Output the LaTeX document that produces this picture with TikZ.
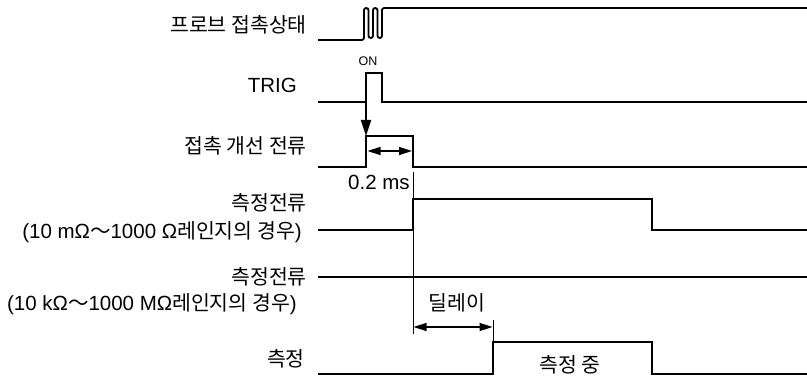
\documentclass[tikz,border=0pt]{standalone}
\usepackage{fontspec}
\setmainfont{Liberation Sans}
\newfontfamily\kr{Noto Sans CJK KR}
\usetikzlibrary{arrows.meta}
\tikzset{
  sig/.style={line width=1.8pt, line join=miter},
  guide/.style={line width=0.6pt},
  lbl/.style={anchor=base east, inner sep=0pt, font=\fontsize{20.5}{23}\selectfont},
  txt/.style={anchor=base, inner sep=0pt, font=\fontsize{20.5}{23}\selectfont},
  dim/.style={line width=1.5pt, {Triangle[length=13pt,width=8pt]}-{Triangle[length=13pt,width=8pt]}},
  trigarrow/.style={line width=1.8pt, -{Triangle[length=16pt,width=10pt]}}
}
\begin{document}
\begin{tikzpicture}[x=1pt,y=-1pt]
\useasboundingbox (0,0) rectangle (807,377);
% labels
\node[lbl] (l1) at (307,33) {\kr 프로브 접촉상태};
\node[lbl] (l2) at (297,93) {TRIG};
\node[lbl] (l3) at (307,154) {\kr 접촉 개선 전류};
\node[lbl] (l4) at (307,211) {\kr 측정전류};
\node[lbl] (l4b) at (302,239) {(10 mΩ{\kr ～}1000 Ω{\kr 레인지의 경우})};
\node[lbl] (l5) at (307,284) {\kr 측정전류};
\node[lbl] (l5b) at (297,310) {(10 kΩ{\kr ～}1000 MΩ{\kr 레인지의 경우})};
\node[lbl] (l6) at (305,366) {\kr 측정};
% probe contact state
\draw[sig, rounded corners=2.2pt] (318,40) -- (364,40) -- (364,8) -- (368.5,8) -- (368.5,38) -- (373,38) -- (373,8) -- (377.5,8) -- (377.5,38) -- (382,38) -- (382,8) -- (807,8);
% TRIG
\draw[sig] (318,102) -- (366,102) -- (366,73) -- (382,73) -- (382,102) -- (807,102);
\node[anchor=base, inner sep=0pt, font=\fontsize{12.5}{14}\selectfont] (on) at (368,66) {ON};
\coordinate (trigfoot) at (366,102);
\coordinate (contop) at (366,136);
\draw[trigarrow] (trigfoot) -- (contop);
% contact improvement current
\draw[sig] (318,167) -- (366,167) -- (366,136) -- (413,136) -- (413,167) -- (807,167);
\coordinate (a1) at (367.5,151);
\coordinate (a2) at (412,151);
\draw[dim] (a1) -- (a2);
\node[txt, anchor=base west] (t02) at (348,190) {0.2 ms};
% measurement current 1
\draw[sig] (318,230) -- (413,230) -- (413,199) -- (652,199) -- (652,230) -- (807,230);
% measurement current 2
\draw[sig] (318,277) -- (807,277);
% guides
\coordinate (g1a) at (413,172);
\coordinate (g1b) at (413,334);
\draw[guide] (g1a) -- (g1b);
\coordinate (g2a) at (493,320);
\coordinate (g2b) at (493,342);
\draw[guide] (g2a) -- (g2b);
\coordinate (d1) at (413.5,327);
\coordinate (d2) at (492.5,327);
\draw[dim] (d1) -- (d2);
\node[txt] (tdelay) at (457,311) {\kr 딜레이};
% measurement
\draw[sig] (318,374) -- (493,374) -- (493,342) -- (652,342) -- (652,374) -- (807,374);
\node[txt] (tmeas) at (570,372) {\kr 측정 중};
\end{tikzpicture}
\end{document}
